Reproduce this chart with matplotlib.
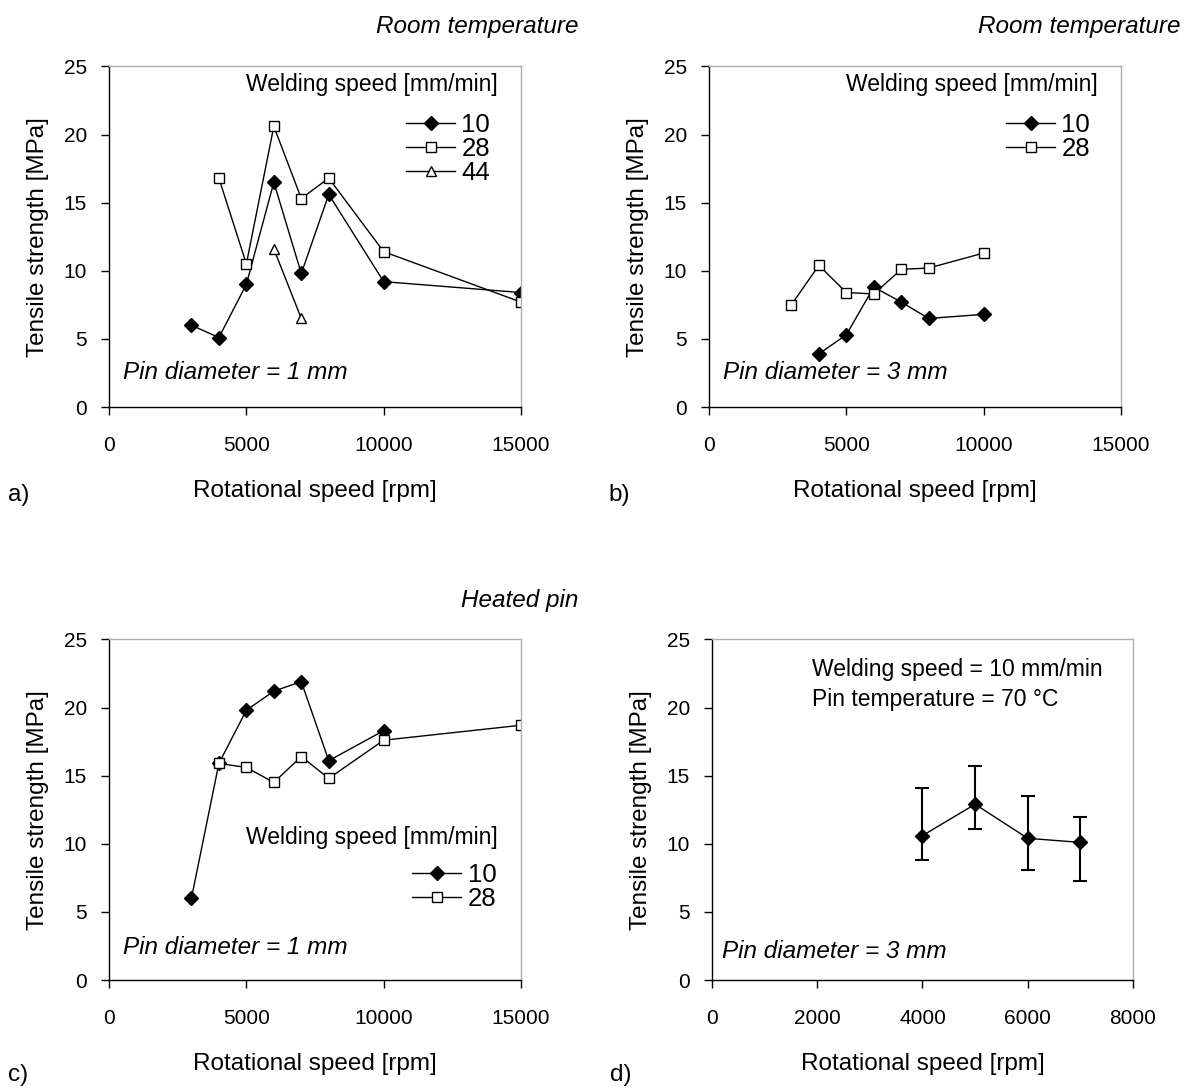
import numpy as np
import matplotlib.pyplot as plt

plt.rcParams['font.family'] = ['Liberation Sans', 'DejaVu Sans']

### Data ###
# a) room temperature, pin 1 mm
a_x10 = [3000, 4000, 5000, 6000, 7000, 8000, 10000, 15000]
a_y10 = [6.0, 5.1, 9.0, 16.5, 9.8, 15.6, 9.2, 8.4]
a_x28 = [4000, 5000, 6000, 7000, 8000, 10000, 15000]
a_y28 = [16.8, 10.5, 20.6, 15.3, 16.8, 11.4, 7.7]
a_x44 = [6000, 7000]
a_y44 = [11.6, 6.5]

# b) room temperature, pin 3 mm
b_x10 = [4000, 5000, 6000, 7000, 8000, 10000]
b_y10 = [3.9, 5.3, 8.8, 7.7, 6.5, 6.8]
b_x28 = [3000, 4000, 5000, 6000, 7000, 8000, 10000]
b_y28 = [7.5, 10.4, 8.4, 8.3, 10.1, 10.2, 11.3]

# c) heated pin, pin 1 mm
c_x10 = [3000, 4000, 5000, 6000, 7000, 8000, 10000]
c_y10 = [6.0, 15.9, 19.8, 21.2, 21.9, 16.1, 18.3]
c_x28 = [4000, 5000, 6000, 7000, 8000, 10000, 15000]
c_y28 = [15.9, 15.6, 14.5, 16.4, 14.8, 17.6, 18.7]

# d) welding speed 10, pin 70 C, pin 3 mm
d_x = [4000, 5000, 6000, 7000]
d_y = [10.6, 12.9, 10.4, 10.1]
d_lo = [8.8, 11.1, 8.1, 7.3]
d_hi = [14.1, 15.7, 13.5, 12.0]

fig = plt.figure(figsize=(11.89, 10.9), dpi=100)
W = 0.3465
H = 0.3125
ax_a = fig.add_axes([0.0917, 0.6266, W, H])
ax_b = fig.add_axes([0.5963, 0.6266, W, H])
ax_c = fig.add_axes([0.0917, 0.1009, W, H])
ax_d = fig.add_axes([0.5988, 0.1009, 0.3541, H])

tick_fs = 15
lab_fs = 17.5
txt_fs = 17.5


def style(ax, xmax, xstep, wpx):
    ax.set_xlim(0, xmax)
    ax.set_ylim(0, 25)
    ax.set_xticks(np.arange(0, xmax + 1, xstep))
    ax.set_yticks(np.arange(0, 26, 5))
    for s in ['top', 'right']:
        ax.spines[s].set_color('#b0b0b0')
        ax.spines[s].set_linewidth(1)
    for s in ['left', 'bottom']:
        ax.spines[s].set_color('black')
        ax.spines[s].set_linewidth(1)
    ax.tick_params(direction='out', length=6, width=1, labelsize=tick_fs)
    ax.tick_params(axis='x', pad=15)
    ax.tick_params(axis='y', pad=10)
    ax.set_xlabel('Rotational speed [rpm]', fontsize=lab_fs)
    ax.set_ylabel('Tensile strength [MPa]', fontsize=lab_fs)
    ax.xaxis.set_label_coords(0.5, -0.215)
    ax.yaxis.set_label_coords(-60.0 / wpx, 0.5)


def legend(ax, title, tx, ty, lx, ly):
    ax.text(tx, ty, title, transform=ax.transAxes, ha='right', va='center',
            fontsize=txt_fs - 1)
    ax.legend(loc='upper right', bbox_to_anchor=(lx, ly), frameon=False,
              fontsize=txt_fs + 1, handlelength=1.9, labelspacing=0.0,
              handletextpad=0.25, borderpad=0, borderaxespad=0)


mk10 = dict(color='black', marker='D', markersize=7.5, lw=1, markerfacecolor='black')
mk28 = dict(color='black', marker='s', markersize=7, lw=1, markerfacecolor='white')
mk44 = dict(color='black', marker='^', markersize=7.5, lw=1, markerfacecolor='white')

# a
ax_a.plot(a_x10, a_y10, label='10', **mk10)
ax_a.plot(a_x28, a_y28, label='28', **mk28)
ax_a.plot(a_x44, a_y44, label='44', **mk44)
style(ax_a, 15000, 5000, 412)
legend(ax_a, 'Welding speed [mm/min]', 0.944, 0.947, 0.925, 0.862)
ax_a.text(0.034, 0.10, 'Pin diameter = 1 mm', transform=ax_a.transAxes,
          fontsize=txt_fs, style='italic', va='center')

# b
ax_b.plot(b_x10, b_y10, label='10', **mk10)
ax_b.plot(b_x28, b_y28, label='28', **mk28)
style(ax_b, 15000, 5000, 412)
legend(ax_b, 'Welding speed [mm/min]', 0.944, 0.947, 0.925, 0.862)
ax_b.text(0.034, 0.10, 'Pin diameter = 3 mm', transform=ax_b.transAxes,
          fontsize=txt_fs, style='italic', va='center')

# c
ax_c.plot(c_x10, c_y10, label='10', **mk10)
ax_c.plot(c_x28, c_y28, label='28', **mk28)
style(ax_c, 15000, 5000, 412)
legend(ax_c, 'Welding speed [mm/min]', 0.944, 0.418, 0.940, 0.345)
ax_c.text(0.034, 0.095, 'Pin diameter = 1 mm', transform=ax_c.transAxes,
          fontsize=txt_fs, style='italic', va='center')

# d
d_err = [np.array(d_y) - np.array(d_lo), np.array(d_hi) - np.array(d_y)]
ax_d.errorbar(d_x, d_y, yerr=d_err, capsize=5, elinewidth=1.5, capthick=1.5, **mk10)
style(ax_d, 8000, 2000, 421)
ax_d.text(0.237, 0.912, 'Welding speed = 10 mm/min', transform=ax_d.transAxes,
          fontsize=txt_fs - 1, va='center')
ax_d.text(0.237, 0.824, 'Pin temperature = 70 \u00b0C', transform=ax_d.transAxes,
          fontsize=txt_fs - 1, va='center')
ax_d.text(0.024, 0.083, 'Pin diameter = 3 mm', transform=ax_d.transAxes,
          fontsize=txt_fs, style='italic', va='center')

# headers and panel letters
fig.text(578 / 1189, 1 - 26 / 1090, 'Room temperature', ha='right', va='center',
         fontsize=txt_fs, style='italic')
fig.text(1180 / 1189, 1 - 26 / 1090, 'Room temperature', ha='right', va='center',
         fontsize=txt_fs, style='italic')
fig.text(578 / 1189, 1 - 600 / 1090, 'Heated pin', ha='right', va='center',
         fontsize=txt_fs, style='italic')
fig.text(8 / 1189, 1 - 495 / 1090, 'a)', va='center', fontsize=txt_fs)
fig.text(608 / 1189, 1 - 495 / 1090, 'b)', va='center', fontsize=txt_fs)
fig.text(8 / 1189, 1 - 1075 / 1090, 'c)', va='center', fontsize=txt_fs)
fig.text(610 / 1189, 1 - 1075 / 1090, 'd)', va='center', fontsize=txt_fs)

fig.savefig('out.png', dpi=100)
